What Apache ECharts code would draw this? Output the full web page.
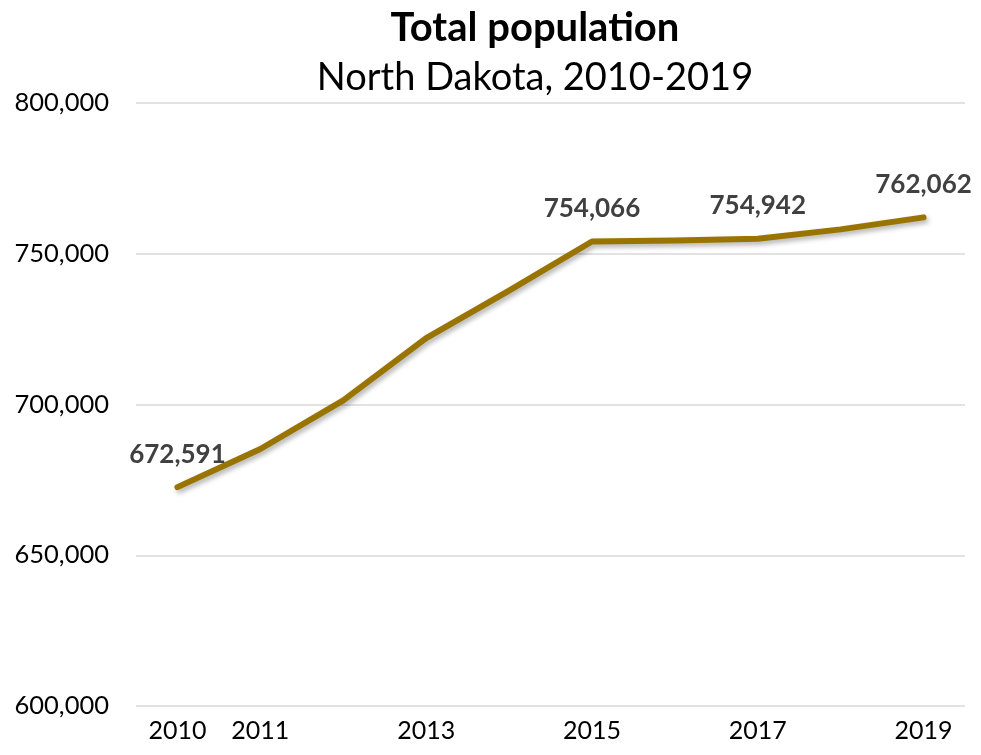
<!DOCTYPE html>
<html>
<head>
<meta charset="utf-8">
<script src="https://cdn.jsdelivr.net/npm/echarts@6/dist/echarts.min.js"></script>
<style>
html,body{margin:0;padding:0;background:#fff;}
#chart{width:981px;height:755px;}
</style>
</head>
<body>
<div id="chart"></div>
<script>
const years = ['2010','2011','2012','2013','2014','2015','2016','2017','2018','2019'];
const population = [672591, 685242, 701345, 722038, 737800, 754066, 754434, 754942, 758080, 762062];
const shownYearLabels = ['2010','2011','2013','2015','2017','2019'];
const labeledYears = ['2010','2015','2017','2019'];
const yTicks = { min: 600000, max: 800000, interval: 50000 };

const chart = echarts.init(document.getElementById('chart'));
const fmt = v => v.toLocaleString('en-US');
chart.setOption({
  animation: false,
  backgroundColor: '#ffffff',
  title: [
    { text: 'Total population', left: 530, top: 3, textAlign: 'center',
      textStyle: { fontFamily: 'Lato', fontWeight: 'bold', fontSize: 40, color: '#000' } },
    { text: 'North Dakota, 2010-2019', left: 530, top: 54, textAlign: 'center',
      textStyle: { fontFamily: 'Lato', fontWeight: 'normal', fontSize: 38, color: '#000' } }
  ],
  grid: { left: 136, right: 16, top: 103, bottom: 49, containLabel: false },
  xAxis: {
    type: 'category',
    data: years,
    boundaryGap: true,
    axisLine: { show: false },
    axisTick: { show: false },
    axisLabel: {
      interval: (i, v) => shownYearLabels.includes(v),
      margin: 12,
      fontFamily: 'Lato', fontSize: 25, color: '#000'
    },
    splitLine: { show: false }
  },
  yAxis: {
    type: 'value',
    min: yTicks.min, max: yTicks.max, interval: yTicks.interval,
    axisLine: { show: false },
    axisTick: { show: false },
    axisLabel: { margin: 27, fontFamily: 'Lato', fontSize: 25.5, color: '#000', formatter: fmt },
    splitLine: { lineStyle: { color: '#d9d9d9', width: 1.5 } }
  },
  series: [{
    type: 'line',
    data: population,
    symbol: 'circle',
    symbolSize: 0,
    showSymbol: true,
    lineStyle: { color: '#9a7400', width: 6, cap: 'round', join: 'round',
      shadowColor: 'rgba(0,0,0,0.3)', shadowBlur: 5, shadowOffsetX: 2, shadowOffsetY: 3 },
    itemStyle: { color: '#9a7400' },
    label: {
      show: true,
      position: 'top',
      distance: 20,
      fontFamily: 'Lato', fontWeight: 'bold', fontSize: 26, color: '#404040',
      formatter: p => labeledYears.includes(p.name) ? fmt(p.value) : ''
    }
  }]
});
</script>
</body>
</html>
